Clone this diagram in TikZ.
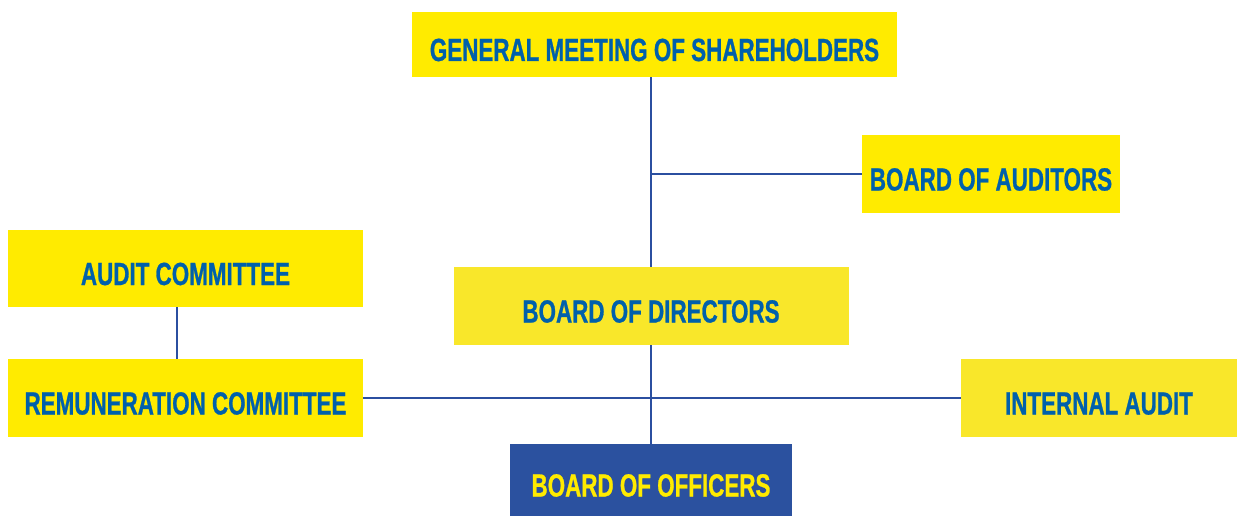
\documentclass[tikz,border=0pt]{standalone}
\usepackage{fontspec}
\newfontfamily\orgfont[FakeStretch=0.70, BoldFeatures={FakeBold=0.8}]{Liberation Sans}
\usepackage{tikz}
\usetikzlibrary{positioning}
\definecolor{orgyellow}{HTML}{FFEB00}
\definecolor{orgyellowb}{HTML}{F9E72A}
\definecolor{orgtext}{HTML}{0060AB}
\definecolor{orgline}{HTML}{2B4FA0}
\definecolor{orgnavy}{HTML}{2B519F}

\begin{document}
\begin{tikzpicture}[x=1pt, y=-1pt,
  unit/.style={fill=orgyellow, text=orgtext, font=\orgfont\bfseries\fontsize{32}{32}\selectfont,
               inner sep=0pt, text height=33pt, text depth=0pt, minimum height=78pt},
  unitb/.style={unit, fill=orgyellowb},
  exec/.style={unit, fill=orgnavy, text=orgyellow, minimum height=72pt},
  link/.style={draw=orgline, line width=2.6pt},
]
\useasboundingbox (0,0) rectangle (1237,516);

% Top: shareholders and auditors
\node[unit, minimum width=485pt, minimum height=65pt] (gms) at (654.5,44.5) {GENERAL MEETING OF SHAREHOLDERS};
\node[unit, minimum width=258pt] (auditors) at (991,174) {BOARD OF AUDITORS};

% Middle: board and committees
\node[unitb, minimum width=395pt] (directors) at (651,306) {BOARD OF DIRECTORS};
\node[unit, minimum width=355pt, minimum height=77pt] (auditcom) at (185.5,268.5) {AUDIT COMMITTEE};
\node[unit, minimum width=355pt] (remun) at (185.5,398) {REMUNERATION COMMITTEE};
\node[unitb, minimum width=276pt] (internal) at (1099,398) {INTERNAL AUDIT};

% Bottom: officers
\node[exec, minimum width=282pt] (officers) at (651,480) {BOARD OF OFFICERS};

\draw[link] (directors.north) -- (directors.north |- gms.south);
\draw[link] (auditors.west -| directors.north) -- (auditors.west);
\draw[link] (directors.south) -- (officers.north);
\draw[link] (remun.east) -- (internal.west);
\draw[link] ([xshift=-8.5pt]auditcom.south) -- ([xshift=-8.5pt]remun.north);
\end{tikzpicture}
\end{document}
